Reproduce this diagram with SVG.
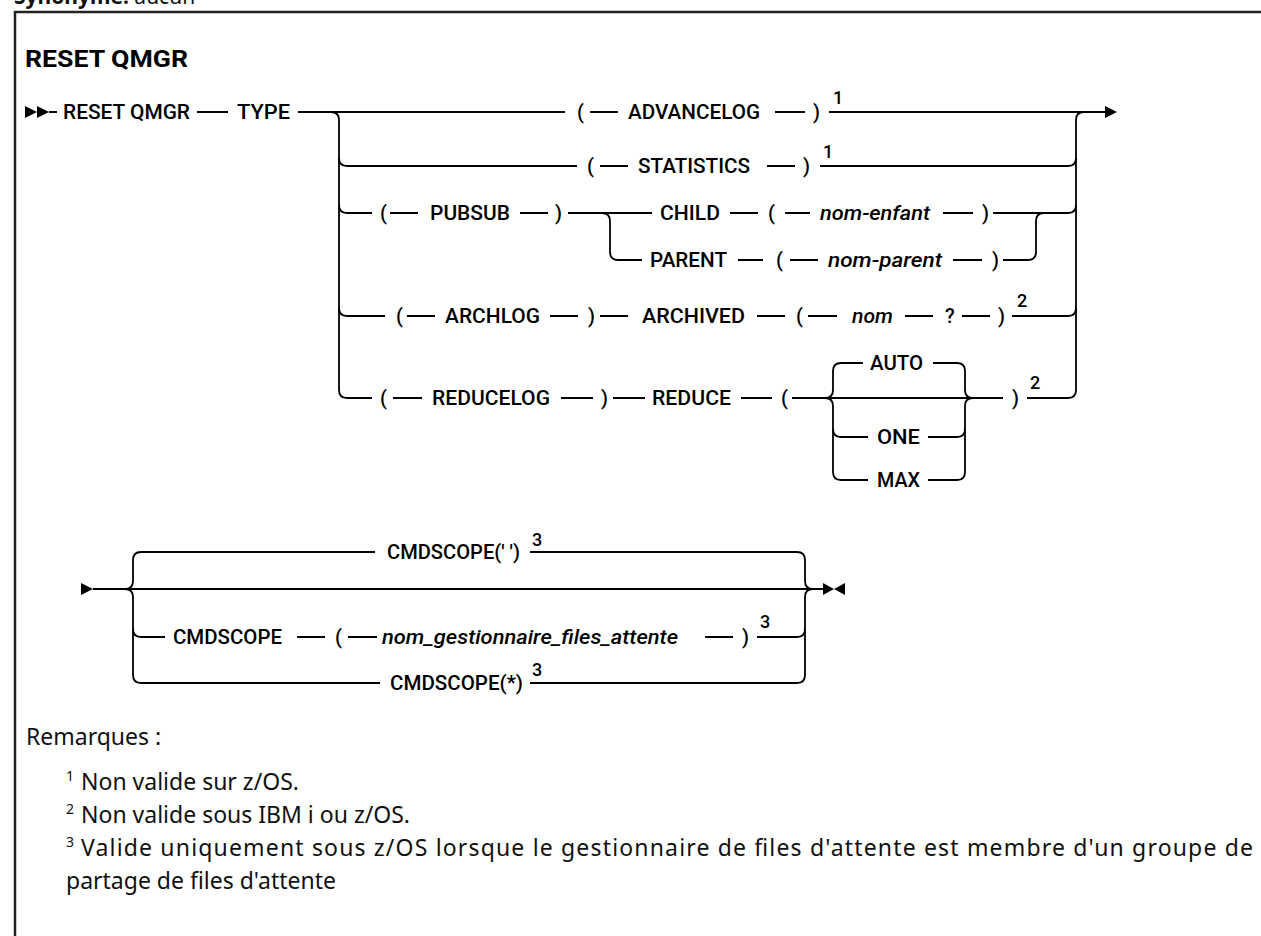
<svg xmlns="http://www.w3.org/2000/svg" width="1261" height="936" viewBox="0 0 1261 936">
<style>
.k{font-family:Roboto,"Liberation Sans",sans-serif;font-size:20px;font-weight:500;fill:#000}
.i{font-family:Roboto,"Liberation Sans",sans-serif;font-size:20px;font-weight:500;font-style:italic;fill:#000}
.s{font-family:Roboto,"Liberation Sans",sans-serif;font-size:18px;font-weight:500;fill:#000}
.n{font-family:"Noto Sans","Liberation Sans",sans-serif;font-size:23px;fill:#111}
.ns{font-family:"Noto Sans","Liberation Sans",sans-serif;font-size:14px;fill:#111}
.c{fill:none;stroke:#000;stroke-width:1.8}
.m{fill:#000}
</style>
<rect width="1261" height="936" fill="#fff"/>
<text x="14" y="4" font-family="'Noto Sans','Liberation Sans',sans-serif" font-size="21" fill="#111"><tspan font-weight="bold">Synonyme:</tspan> aucun</text>
<path d="M15 940 V12 H1265" fill="none" stroke="#222" stroke-width="2.5"/>
<text x="25" y="67" font-family="Roboto,'Liberation Sans',sans-serif" font-size="24" font-weight="bold" textLength="163" lengthAdjust="spacingAndGlyphs">RESET QMGR</text>

<g id="connectors">
<polygon class="m" points="25,106 37,112 25,118"/>
<polygon class="m" points="37,106 49,112 37,118"/>
<path class="c" d="M49 112 H57 M197 112 H228 M298 112 H565 M590 112 H618 M775 112 H805 M829 112 H1105"/>
<polygon class="m" points="1105,106 1117,112 1105,118"/>
<path class="c" d="M331 112 Q339 112 339 120 V390 Q339 398 347 398 H372"/>
<path class="c" d="M339 158 Q339 166 347 166 H577 M600 166 H628 M767 166 H795 M820 166 H1068 Q1076 166 1076 158"/>
<path class="c" d="M1076 390 V120 Q1076 112 1084 112"/>
<path class="c" d="M339 205 Q339 213 347 213 H372 M390 213 H418 M520 213 H548 M568 213 H652 M730 213 H758 M785 213 H810 M943 213 H973 M993 213 H1068 Q1076 213 1076 205"/>
<path class="c" d="M602 213 Q610 213 610 221 V252 Q610 260 618 260 H642 M738 260 H763 M790 260 H818 M953 260 H982 M1003 260 H1028 Q1036 260 1036 252 V221 Q1036 213 1044 213"/>
<path class="c" d="M339 308 Q339 316 347 316 H385 M407 316 H435 M550 316 H578 M600 316 H628 M757 316 H785 M808 316 H837 M905 316 H933 M962 316 H990 M1012 316 H1068 Q1076 316 1076 308"/>
<path class="c" d="M393 398 H422 M561 398 H593 M613 398 H645 M741 398 H772 M792 398 H1003 M1027 398 H1068 Q1076 398 1076 390"/>
<path class="c" d="M825 398 Q833 398 833 390 V371 Q833 363 841 363 H863 M933 363 H957 Q965 363 965 371 V390 Q965 398 973 398"/>
<path class="c" d="M825 398 Q833 398 833 406 V472 Q833 480 841 480 H868 M928 480 H957 Q965 480 965 472 V406 Q965 398 973 398"/>
<path class="c" d="M833 429 Q833 437 841 437 H868 M928 437 H957 Q965 437 965 429"/>
<polygon class="m" points="81,583 93,589 81,595"/>
<path class="c" d="M93 589 H823"/>
<path class="c" d="M125 589 Q133 589 133 581 V560 Q133 552 141 552 H375 M530 552 H797 Q805 552 805 560 V581 Q805 589 813 589"/>
<path class="c" d="M125 589 Q133 589 133 597 V675 Q133 683 141 683 H380 M530 683 H797 Q805 683 805 675 V597 Q805 589 813 589"/>
<path class="c" d="M133 629 Q133 637 141 637 H165 M297 637 H325 M348 637 H377 M705 637 H733 M757 637 H797 Q805 637 805 629"/>
<polygon class="m" points="823,583 834,589 823,595"/>
<polygon class="m" points="845,583 834,589 845,595"/>
</g>

<g id="n-reset-qmgr"><text class="k" x="63" y="119" textLength="127" lengthAdjust="spacingAndGlyphs">RESET QMGR</text></g>
<g id="n-type"><text class="k" x="237" y="119" textLength="53" lengthAdjust="spacingAndGlyphs">TYPE</text></g>

<g id="n-advancelog">
<text class="k" x="577" y="119">(</text>
<text class="k" x="628" y="119" textLength="132" lengthAdjust="spacingAndGlyphs">ADVANCELOG</text>
<text class="k" x="813" y="119">)</text>
<text class="s" x="833" y="104">1</text>
</g>
<g id="n-statistics">
<text class="k" x="587" y="173">(</text>
<text class="k" x="638" y="173" textLength="112" lengthAdjust="spacingAndGlyphs">STATISTICS</text>
<text class="k" x="803" y="173">)</text>
<text class="s" x="823" y="158">1</text>
</g>
<g id="n-pubsub">
<text class="k" x="380" y="220">(</text>
<text class="k" x="430" y="220" textLength="80" lengthAdjust="spacingAndGlyphs">PUBSUB</text>
<text class="k" x="555" y="220">)</text>
</g>
<g id="n-child">
<text class="k" x="660" y="220" textLength="60" lengthAdjust="spacingAndGlyphs">CHILD</text>
<text class="k" x="768" y="220">(</text>
<text class="i" x="820" y="220" textLength="110" lengthAdjust="spacingAndGlyphs">nom-enfant</text>
<text class="k" x="982" y="220">)</text>
</g>
<g id="n-parent">
<text class="k" x="650" y="267" textLength="77" lengthAdjust="spacingAndGlyphs">PARENT</text>
<text class="k" x="776" y="267">(</text>
<text class="i" x="828" y="267" textLength="114" lengthAdjust="spacingAndGlyphs">nom-parent</text>
<text class="k" x="992" y="267">)</text>
</g>
<g id="n-archlog">
<text class="k" x="396" y="323">(</text>
<text class="k" x="445" y="323" textLength="95" lengthAdjust="spacingAndGlyphs">ARCHLOG</text>
<text class="k" x="588" y="323">)</text>
</g>
<g id="n-archived">
<text class="k" x="642" y="323" textLength="103" lengthAdjust="spacingAndGlyphs">ARCHIVED</text>
<text class="k" x="796" y="323">(</text>
<text class="i" x="852" y="323" textLength="41" lengthAdjust="spacingAndGlyphs">nom</text>
<text class="k" x="945" y="323">?</text>
<text class="k" x="998" y="323">)</text>
<text class="s" x="1017" y="307">2</text>
</g>
<g id="n-reducelog">
<text class="k" x="380" y="405">(</text>
<text class="k" x="432" y="405" textLength="118" lengthAdjust="spacingAndGlyphs">REDUCELOG</text>
<text class="k" x="601" y="405">)</text>
</g>
<g id="n-reduce">
<text class="k" x="652" y="405" textLength="79" lengthAdjust="spacingAndGlyphs">REDUCE</text>
<text class="k" x="781" y="405">(</text>
<text class="k" x="1012" y="405">)</text>
<text class="s" x="1030" y="389">2</text>
</g>
<g id="n-auto"><text class="k" x="870" y="370" textLength="53" lengthAdjust="spacingAndGlyphs">AUTO</text></g>
<g id="n-one"><text class="k" x="877" y="444" textLength="43" lengthAdjust="spacingAndGlyphs">ONE</text></g>
<g id="n-max"><text class="k" x="877" y="487" textLength="43" lengthAdjust="spacingAndGlyphs">MAX</text></g>

<g id="n-cmdscope-blank">
<text class="k" x="387" y="559" textLength="133" lengthAdjust="spacingAndGlyphs">CMDSCOPE(' ')</text>
<text class="s" x="532" y="546">3</text>
</g>
<g id="n-cmdscope-qmgr">
<text class="k" x="173" y="644" textLength="109" lengthAdjust="spacingAndGlyphs">CMDSCOPE</text>
<text class="k" x="335" y="644">(</text>
<text class="i" x="382" y="644" textLength="296" lengthAdjust="spacingAndGlyphs">nom_gestionnaire_files_attente</text>
<text class="k" x="742" y="644">)</text>
<text class="s" x="760" y="628">3</text>
</g>
<g id="n-cmdscope-star">
<text class="k" x="390" y="690" textLength="133" lengthAdjust="spacingAndGlyphs">CMDSCOPE(*)</text>
<text class="s" x="532" y="676">3</text>
</g>

<g id="notes">
<text class="n" x="26" y="745">Remarques :</text>
<text class="ns" x="66" y="781">1</text><text class="n" x="81" y="790">Non valide sur z/OS.</text>
<text class="ns" x="66" y="814">2</text><text class="n" x="81" y="823">Non valide sous IBM i ou z/OS.</text>
<text class="ns" x="66" y="847">3</text><text class="n" x="81" y="856" textLength="1172" lengthAdjust="spacing">Valide uniquement sous z/OS lorsque le gestionnaire de files d'attente est membre d'un groupe de</text>
<text class="n" x="66" y="889">partage de files d'attente</text>
</g>
</svg>
